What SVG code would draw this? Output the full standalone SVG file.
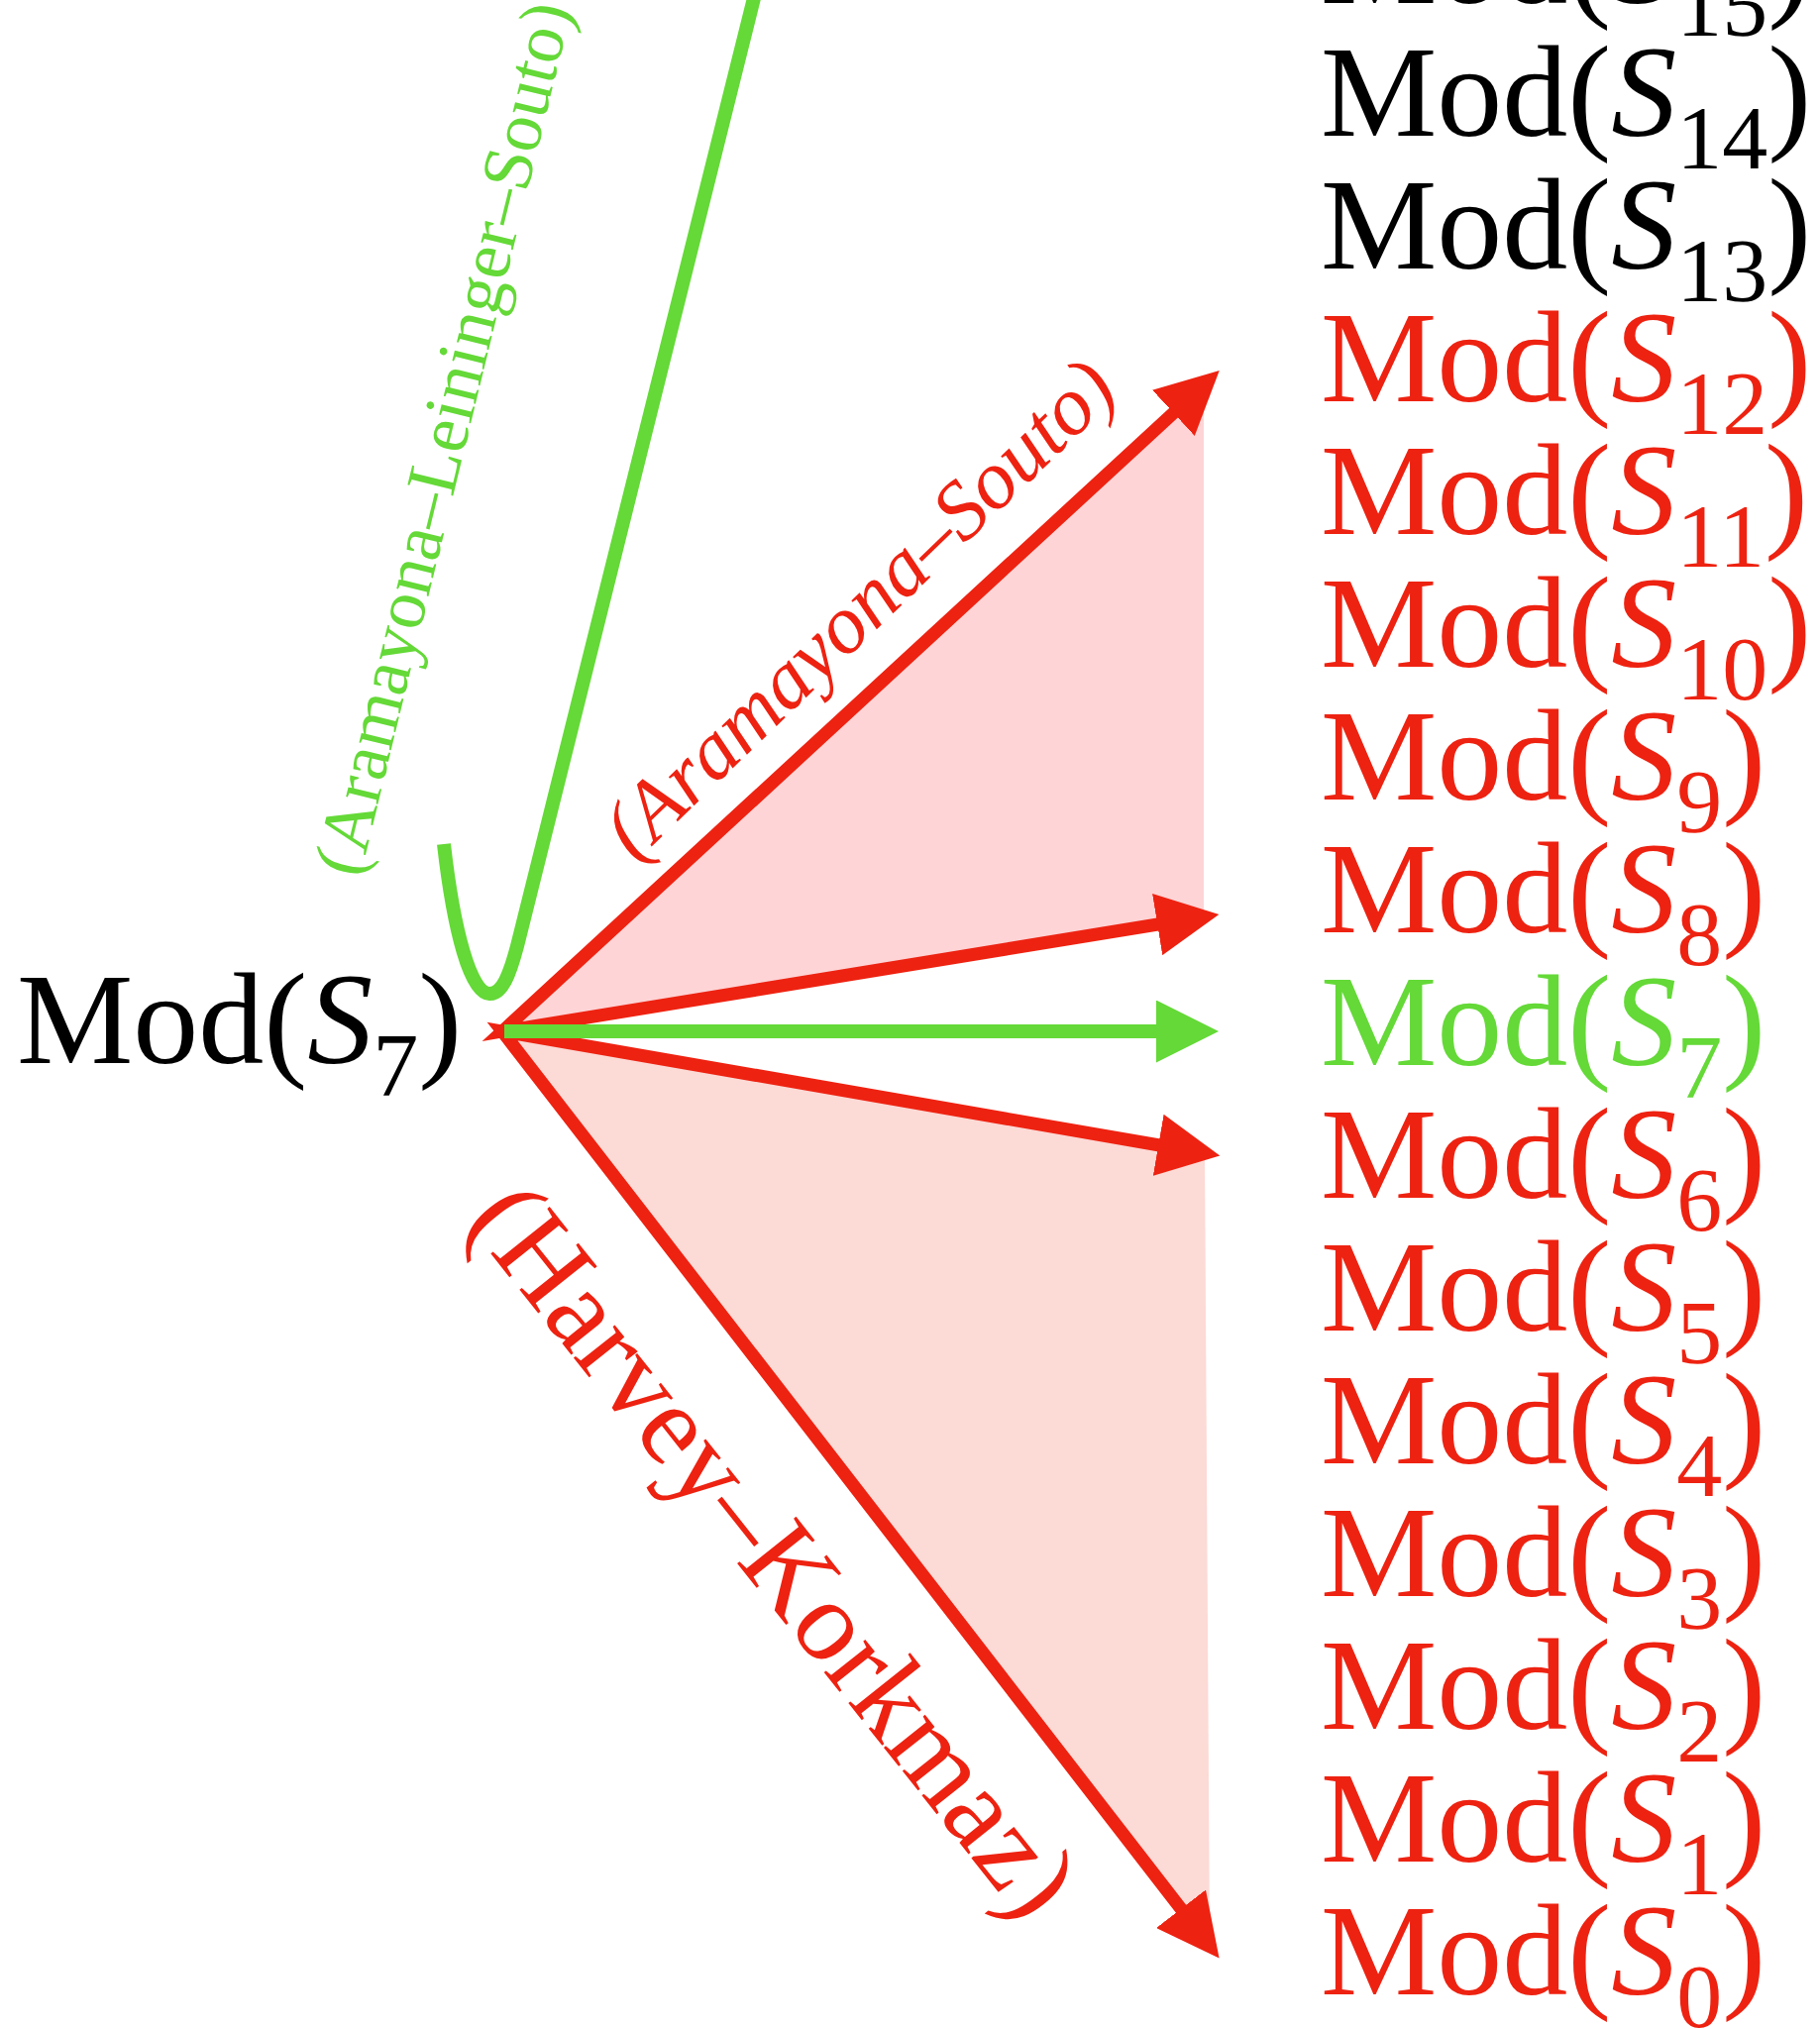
<svg xmlns="http://www.w3.org/2000/svg" width="1837" height="2048" viewBox="0 0 1837 2048">
<defs>
<style>
.lbl{font-family:"Liberation Serif","Times New Roman",serif;font-size:132px}
.it{font-style:italic}
.sub{font-size:92px}
.blk{fill:#000}
.red{fill:#ee2211}
.grn{fill:#64d937}
.rl{fill:none;stroke:#ee2211;stroke-width:13;stroke-linejoin:miter;stroke-miterlimit:20}
.gl{fill:none;stroke:#64d937;stroke-width:14}
.elbl{font-family:"Liberation Serif","Times New Roman",serif;text-anchor:middle}
</style>
<marker id="ar" markerUnits="userSpaceOnUse" markerWidth="63" markerHeight="63" viewBox="0 0 63 63" refX="13" refY="31.5" orient="auto-start-reverse"><path d="M0,0 L63,31.5 L0,63 Z" fill="#ee2211"/></marker>
<marker id="ag" markerUnits="userSpaceOnUse" markerWidth="63" markerHeight="63" viewBox="0 0 63 63" refX="13" refY="31.5" orient="auto"><path d="M0,0 L63,31.5 L0,63 Z" fill="#64d937"/></marker>
</defs>
<rect width="1837" height="2048" fill="#fff"/>

<g id="fills">
<polygon points="510,1041 1215,389 1215,926" fill="#fed4d6"/>
<polygon points="510,1041 1216,1163 1221,1963" fill="#fcdad6"/>
</g>

<g id="connectors">
<path class="gl" d="M448,852 C458,940 475,1003 494,1003 C507,1003 514,985 522,955 L768,-30"/>
<path class="rl" d="M1194,408 L507,1041 L1181,931" marker-start="url(#ar)" marker-end="url(#ar)"/>
<path class="rl" d="M1182,1158 L507,1041 L1200,1937" marker-start="url(#ar)" marker-end="url(#ar)"/>
<line class="gl" x1="509" y1="1041" x2="1180" y2="1041" marker-end="url(#ag)"/>
<text class="elbl grn" font-size="72" transform="translate(470,448) rotate(-76.3)">(Aramayona–Leininger–Souto)</text>
<text class="elbl red it" font-size="84" transform="translate(886,634) rotate(-44)">(Aramayona–Souto)</text>
<text class="elbl red" font-size="116" transform="translate(752,1588) rotate(51.5)">(Harvey–Korkmaz)</text>
</g>

<g id="src"><text class="lbl blk" x="17" y="1073">Mod(<tspan class="it">S</tspan><tspan class="sub" dy="33">7</tspan><tspan dy="-33">)</tspan></text></g>

<g id="m15"><text class="lbl blk" x="1333" y="3">Mod(<tspan class="it">S</tspan><tspan class="sub" dy="33">15</tspan><tspan dy="-33">)</tspan></text></g>
<g id="m14"><text class="lbl blk" x="1333" y="137">Mod(<tspan class="it">S</tspan><tspan class="sub" dy="33">14</tspan><tspan dy="-33">)</tspan></text></g>
<g id="m13"><text class="lbl blk" x="1333" y="271">Mod(<tspan class="it">S</tspan><tspan class="sub" dy="33">13</tspan><tspan dy="-33">)</tspan></text></g>
<g id="m12"><text class="lbl red" x="1333" y="405">Mod(<tspan class="it">S</tspan><tspan class="sub" dy="33">12</tspan><tspan dy="-33">)</tspan></text></g>
<g id="m11"><text class="lbl red" x="1333" y="539">Mod(<tspan class="it">S</tspan><tspan class="sub" dy="33">11</tspan><tspan dy="-33">)</tspan></text></g>
<g id="m10"><text class="lbl red" x="1333" y="673">Mod(<tspan class="it">S</tspan><tspan class="sub" dy="33">10</tspan><tspan dy="-33">)</tspan></text></g>
<g id="m9"><text class="lbl red" x="1333" y="807">Mod(<tspan class="it">S</tspan><tspan class="sub" dy="33">9</tspan><tspan dy="-33">)</tspan></text></g>
<g id="m8"><text class="lbl red" x="1333" y="941">Mod(<tspan class="it">S</tspan><tspan class="sub" dy="33">8</tspan><tspan dy="-33">)</tspan></text></g>
<g id="m7"><text class="lbl grn" x="1333" y="1075">Mod(<tspan class="it">S</tspan><tspan class="sub" dy="33">7</tspan><tspan dy="-33">)</tspan></text></g>
<g id="m6"><text class="lbl red" x="1333" y="1209">Mod(<tspan class="it">S</tspan><tspan class="sub" dy="33">6</tspan><tspan dy="-33">)</tspan></text></g>
<g id="m5"><text class="lbl red" x="1333" y="1343">Mod(<tspan class="it">S</tspan><tspan class="sub" dy="33">5</tspan><tspan dy="-33">)</tspan></text></g>
<g id="m4"><text class="lbl red" x="1333" y="1477">Mod(<tspan class="it">S</tspan><tspan class="sub" dy="33">4</tspan><tspan dy="-33">)</tspan></text></g>
<g id="m3"><text class="lbl red" x="1333" y="1611">Mod(<tspan class="it">S</tspan><tspan class="sub" dy="33">3</tspan><tspan dy="-33">)</tspan></text></g>
<g id="m2"><text class="lbl red" x="1333" y="1745">Mod(<tspan class="it">S</tspan><tspan class="sub" dy="33">2</tspan><tspan dy="-33">)</tspan></text></g>
<g id="m1"><text class="lbl red" x="1333" y="1879">Mod(<tspan class="it">S</tspan><tspan class="sub" dy="33">1</tspan><tspan dy="-33">)</tspan></text></g>
<g id="m0"><text class="lbl red" x="1333" y="2013">Mod(<tspan class="it">S</tspan><tspan class="sub" dy="33">0</tspan><tspan dy="-33">)</tspan></text></g>
</svg>
